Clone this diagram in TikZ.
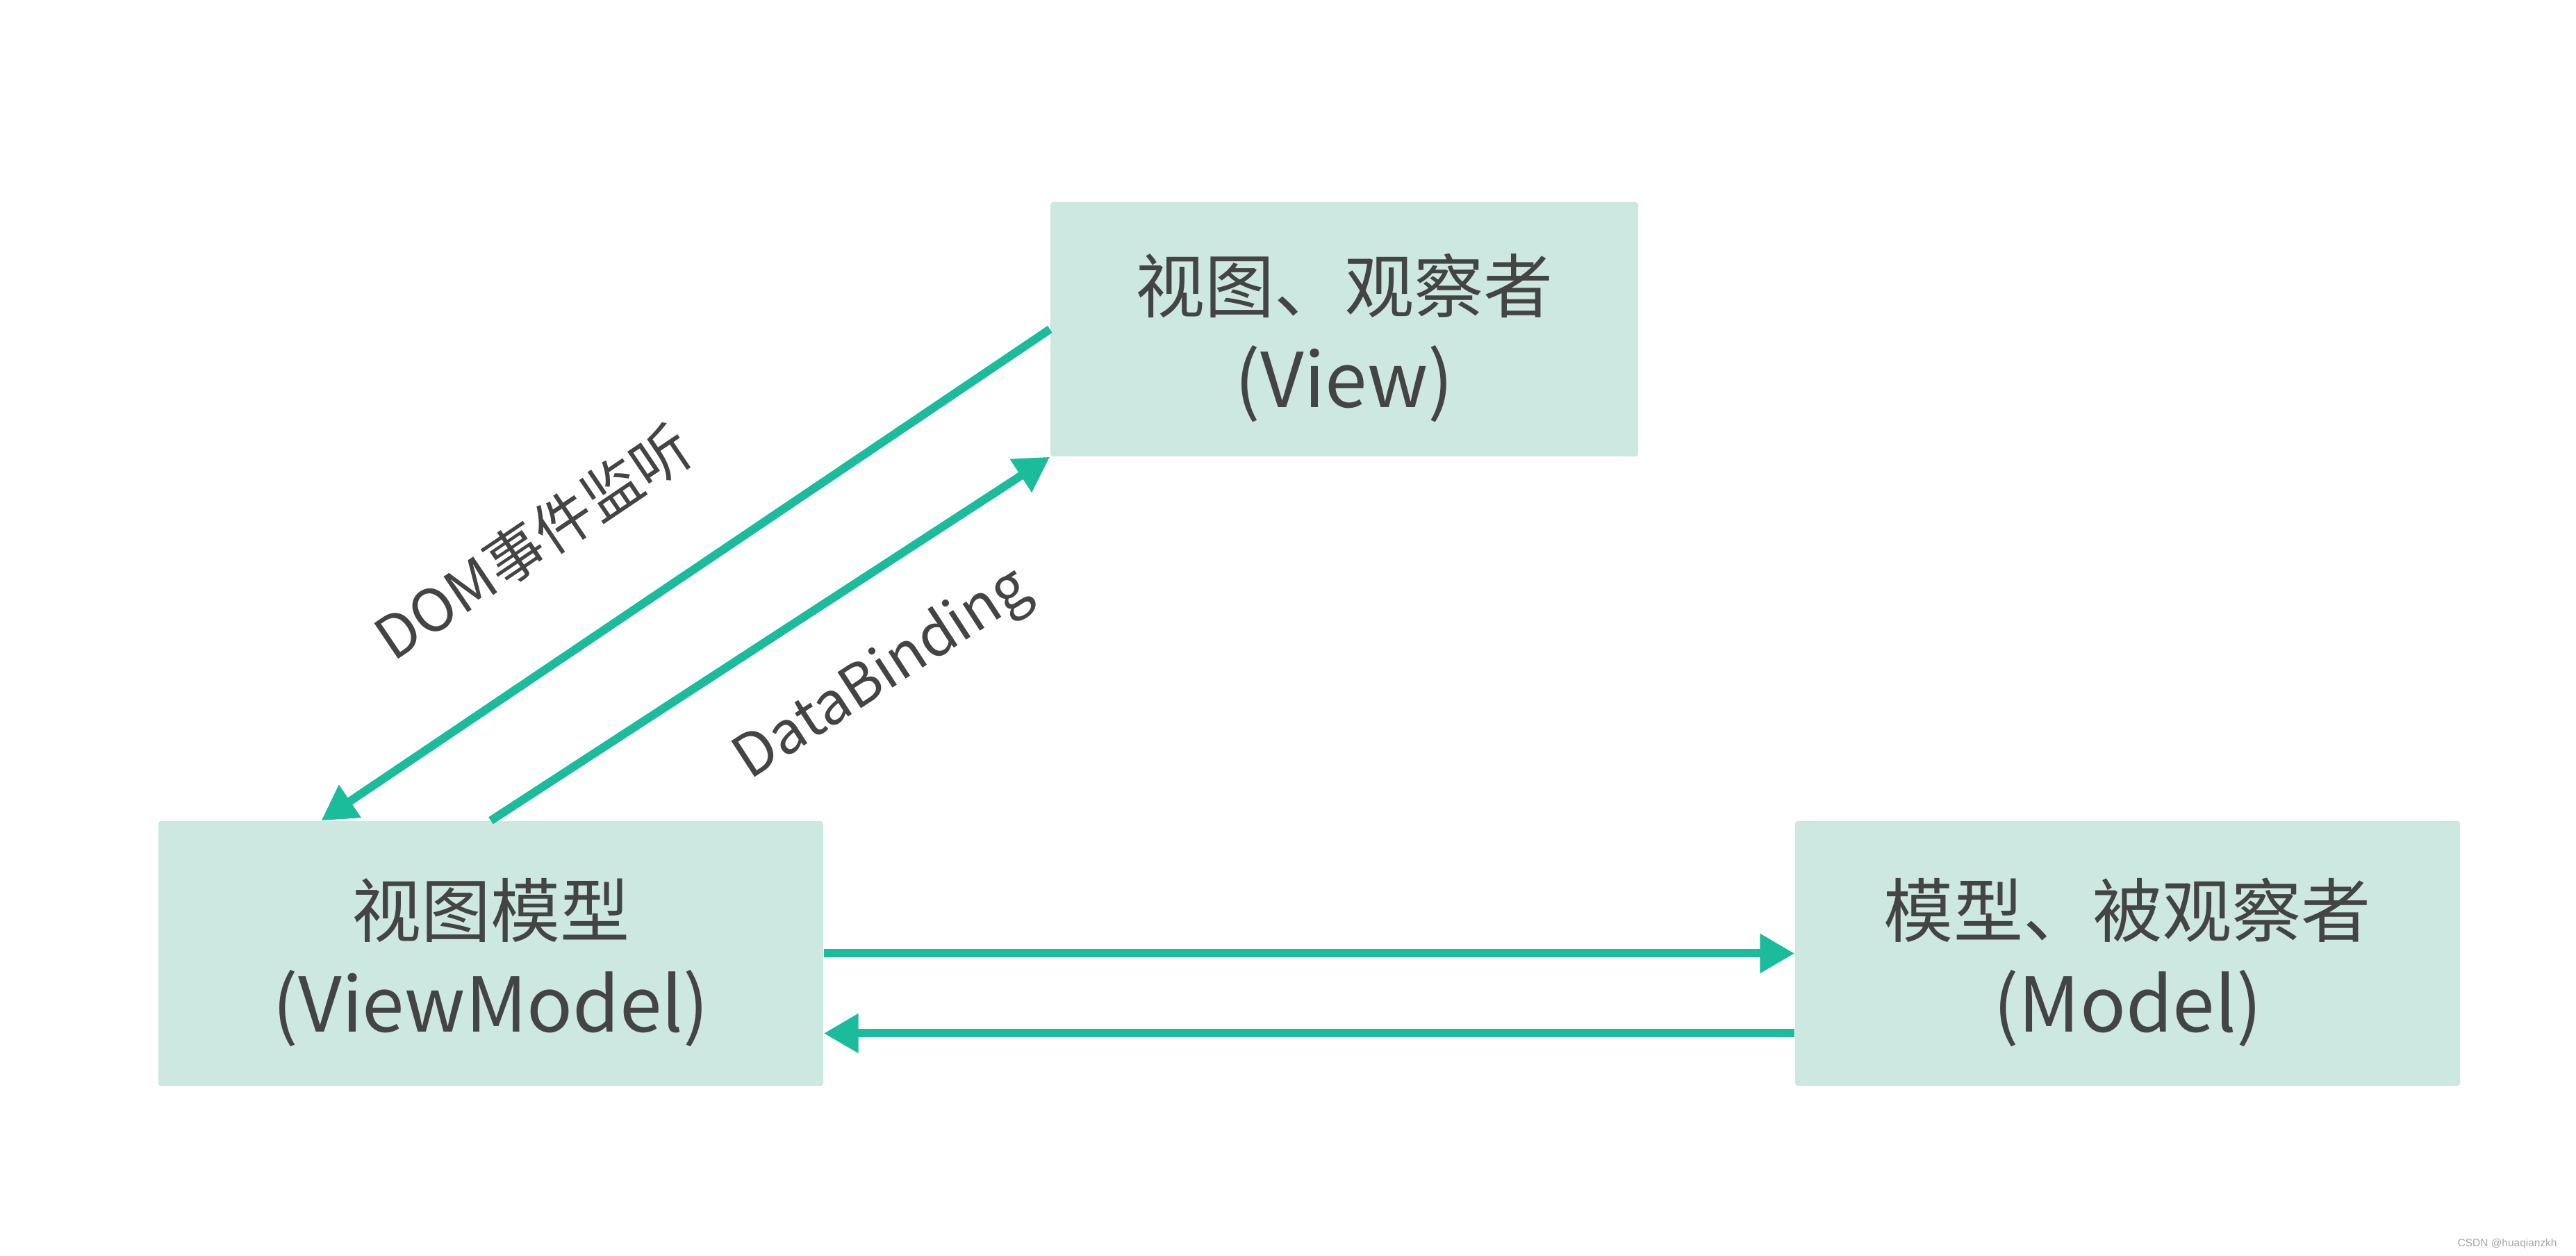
\documentclass[tikz,border=0pt]{standalone}
\usepackage{fontspec}
\setmainfont{Noto Sans CJK SC}
\newfontfamily\markfont{Liberation Sans}
\usetikzlibrary{arrows.meta}
\definecolor{boxfill}{RGB}{205,232,224}
\definecolor{linkteal}{RGB}{26,188,156}
\definecolor{textgray}{RGB}{68,68,68}
\newcommand{\engline}[1]{{\fontsize{31}{39}\selectfont #1}}

\begin{document}
\begin{tikzpicture}[
  box/.style={fill=boxfill, rounded corners=1pt, align=center, text=textgray,
    font=\fontsize{28.5}{39}\selectfont, inner sep=0pt},
  link/.style={draw=linkteal, line width=0.12cm, -{Triangle[length=5mm,width=5.4mm]}},
  tag/.style={text=textgray, font=\fontsize{24}{28}\selectfont}
]
\useasboundingbox[fill=white] (0,0) rectangle (37.08,18.08);

\node[box, minimum width=8.46cm, minimum height=3.66cm] (view) at (19.35,13.34) {\rule{0pt}{1.1cm}视图、观察者\\\engline{(View)}};
\node[box, minimum width=9.57cm, minimum height=3.81cm] (vm) at (7.065,4.355) {\rule{0pt}{1.1cm}视图模型\\\engline{(ViewModel)}};
\node[box, minimum width=9.57cm, minimum height=3.81cm] (model) at (30.625,4.355) {\rule{0pt}{1.1cm}模型、被观察者\\\engline{(Model)}};

\draw[link] (view.west) -- ([xshift=-2.44cm]vm.north);
\draw[link] (vm.north) -- (view.south west);
\draw[link] (vm.east) -- (model.west);
\draw[link] ([yshift=-1.15cm]model.west) -- ([yshift=-1.15cm]vm.east);

\node[tag, rotate=34] (domtag) at (7.67,10.28) {DOM事件监听};
\node[tag, rotate=33] (bindtag) at (12.71,8.36) {DataBinding};

\node[anchor=east, text=gray!70, font=\markfont\fontsize{4.4}{5}\selectfont] (mark) at (36.93,0.17) {CSDN @huaqianzkh};
\end{tikzpicture}
\end{document}
